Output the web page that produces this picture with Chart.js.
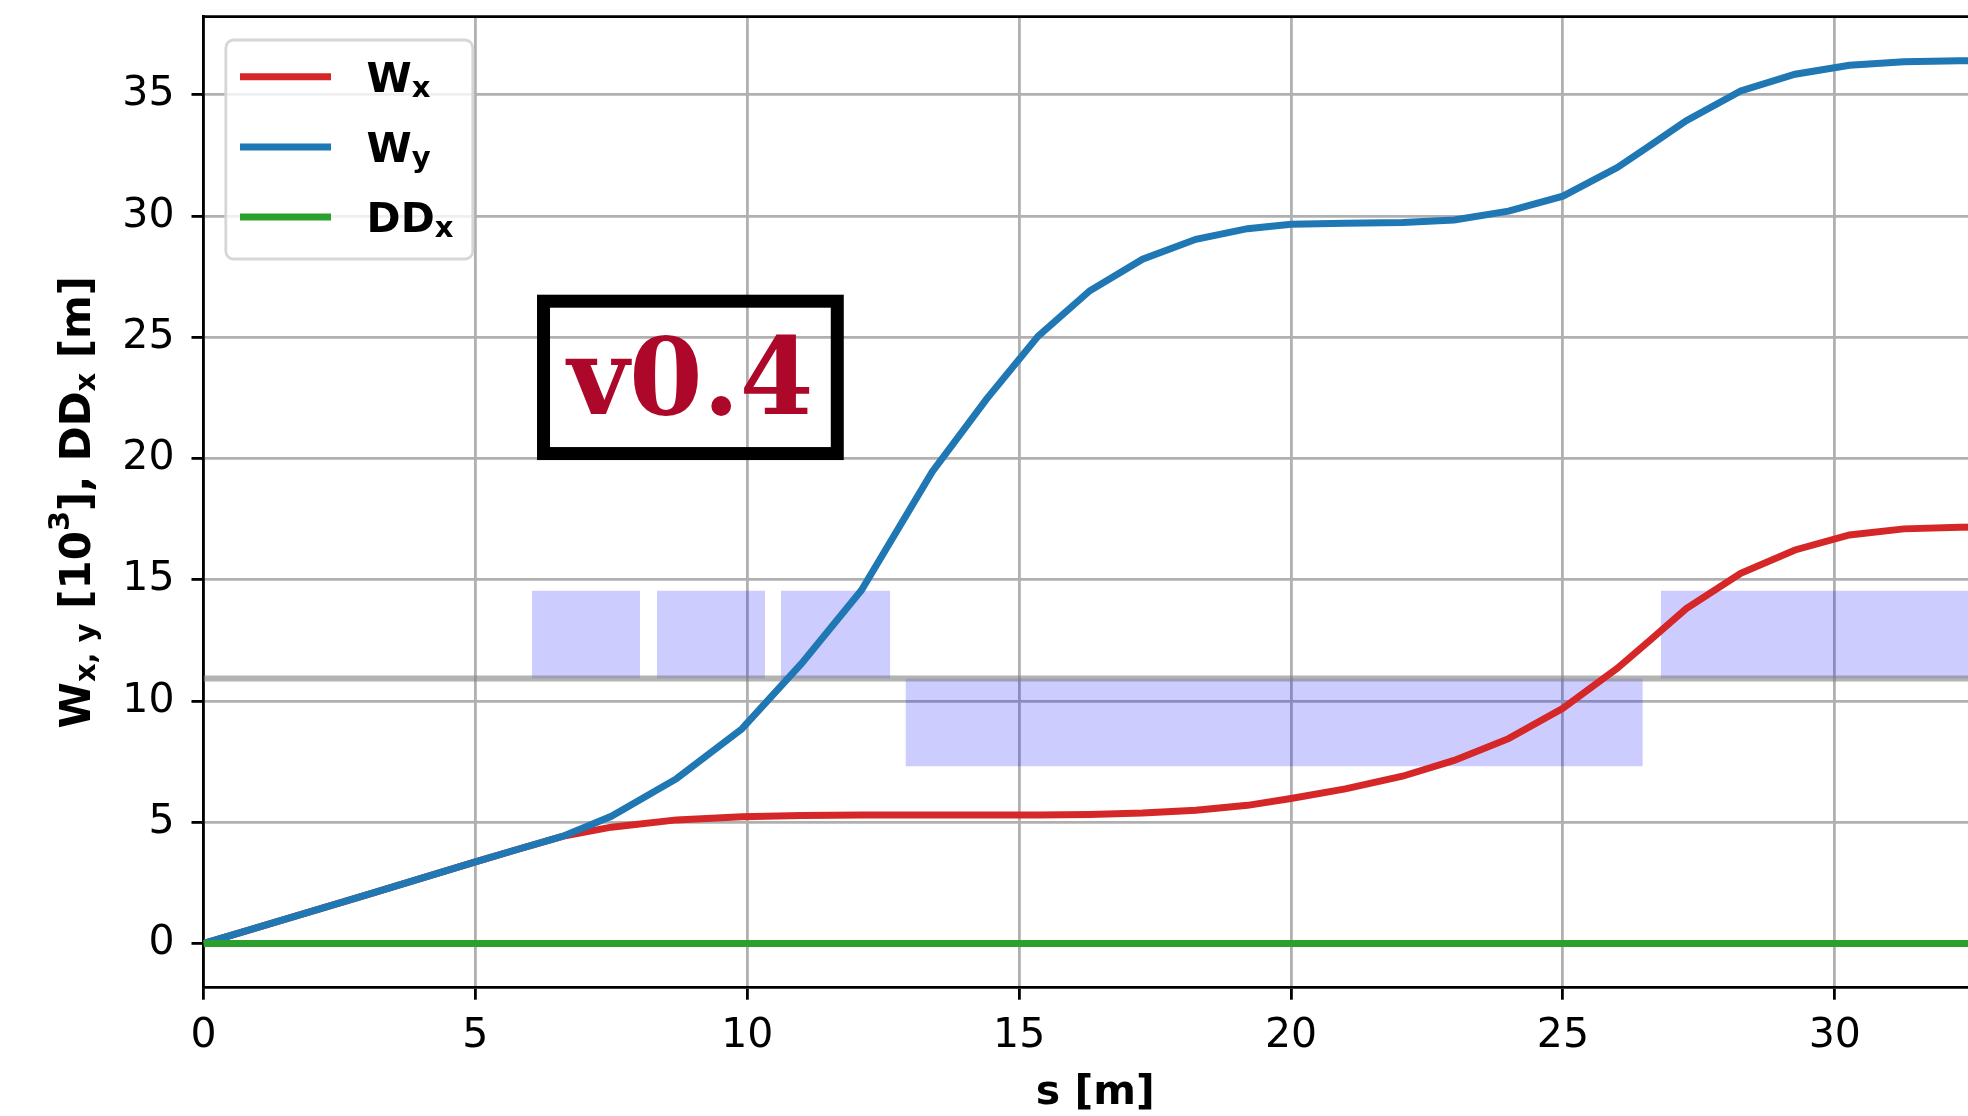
<!DOCTYPE html>
<html>
<head>
<meta charset="utf-8">
<title>W functions along s</title>
<script src="https://cdn.jsdelivr.net/npm/chart.js@4.4.1/dist/chart.umd.min.js"></script>
<style>
    html, body { margin: 0; padding: 0; background: #fff; overflow: hidden; }
    #wrap { position: relative; width: 2000px; height: 1116px; }
</style>
</head>
<body>
<div id="wrap"><canvas id="wChart"></canvas></div>
<script>
// longitudinal position [m]
const s   = [0, 1, 2, 3, 4, 5, 5.8, 6.6, 7.5, 8.7, 9.9, 11.0, 12.1, 13.4, 14.4, 15.35, 16.3, 17.27, 18.25, 19.2,
             20.0, 21.0, 22.05, 23.0, 24.0, 25.0, 26.0, 26.6, 27.27, 28.27, 29.27, 30.27, 31.27, 32.3, 32.8];
// chromatic W functions [10^3] and second order dispersion [m]
const wx  = [0, 0.67, 1.34, 2.01, 2.69, 3.37, 3.9, 4.42, 4.8, 5.1, 5.23, 5.28, 5.3, 5.3, 5.3, 5.3, 5.32, 5.38, 5.5, 5.7,
             5.98, 6.38, 6.9, 7.55, 8.45, 9.7, 11.35, 12.5, 13.81, 15.27, 16.23, 16.85, 17.1, 17.17, 17.18];
const wy  = [0, 0.67, 1.34, 2.01, 2.69, 3.37, 3.9, 4.42, 5.25, 6.8, 8.85, 11.55, 14.57, 19.45, 22.45, 25.05, 26.92, 28.22, 29.04, 29.48,
             29.66, 29.7, 29.73, 29.84, 30.2, 30.82, 32.0, 32.9, 33.93, 35.16, 35.85, 36.22, 36.36, 36.4, 36.4];
const ddx = [0, 0, 0, 0, 0, 0, 0, 0, 0, 0, 0, 0, 0, 0, 0, 0, 0, 0, 0, 0,
             0, 0, 0, 0, 0, 0, 0, 0, 0, 0, 0, 0, 0, 0, 0];

const seriesNames  = ['W_x', 'W_y', 'DD_x'];
const seriesColors = ['#d62728', '#1f77b4', '#2ca02c'];

const xTicks = [0, 5, 10, 15, 20, 25, 30];
const yTicks = [0, 5, 10, 15, 20, 25, 30, 35];
const sMax = 32.8;
const yMin = -1.82;
const yMax = 38.22;

// lattice elements drawn as boxes around the beam line
const beamLine   = 10.93;
const blockStart = [6.04, 8.34, 10.62, 12.91, 26.80];
const blockEnd   = [8.03, 10.33, 12.63, 26.47, 32.8];
const blockEdge  = [14.55, 14.55, 14.55, 7.31, 14.55];

const versionTag = 'v0.4';
const yTitle = 'W_{x, y} [10^3], DD_x [m]';

const FONT = "'DejaVu Sans', sans-serif";
const SIZE = 41;
const LINE_W = 7;

// split "A_{b}" / "A^c" into [text, level] pieces
function parseMath(str) {
    const out = [];
    let buf = '', i = 0;
    while (i < str.length) {
        const c = str[i];
        if (c === '_' || c === '^') {
            if (buf) { out.push([buf, 0]); buf = ''; }
            let arg;
            if (str[i + 1] === '{') {
                const j = str.indexOf('}', i);
                arg = str.slice(i + 2, j);
                i = j + 1;
            } else {
                arg = str[i + 1];
                i += 2;
            }
            out.push([arg, c === '_' ? -1 : 1]);
        } else {
            buf += c;
            i++;
        }
    }
    if (buf) out.push([buf, 0]);
    return out;
}

function partFont(level, size) {
    return 'bold ' + (level === 0 ? size : Math.round(size * 0.7)) + 'px ' + FONT;
}

function mathWidth(ctx, parts, size) {
    let w = 0;
    for (const [t, lvl] of parts) {
        ctx.font = partFont(lvl, size);
        w += ctx.measureText(t).width;
    }
    return w;
}

function drawMath(ctx, parts, x, y, size) {
    ctx.textAlign = 'left';
    ctx.textBaseline = 'alphabetic';
    for (const [t, lvl] of parts) {
        ctx.font = partFont(lvl, size);
        const dy = lvl < 0 ? size * 0.13 : (lvl > 0 ? -size * 0.5 : 0);
        ctx.fillText(t, x, y + dy);
        x += ctx.measureText(t).width;
    }
}

const decorations = {
    id: 'decorations',
    afterDatasetsDraw(chart) {
        const {ctx, chartArea: a} = chart;
        ctx.save();
        ctx.strokeStyle = '#000';
        ctx.lineWidth = 2.8;
        ctx.beginPath();
        ctx.moveTo(a.left, a.top);
        ctx.lineTo(a.right, a.top);
        ctx.lineTo(a.right, a.bottom);
        ctx.stroke();
        ctx.restore();
    },
    afterDraw(chart) {
        const {ctx, chartArea: a} = chart;
        const w = a.right - a.left, h = a.bottom - a.top;

        // legend
        ctx.save();
        const lx = a.left + 22.3, ly = a.top + 23.3, lw = 247, lh = 219;
        ctx.beginPath();
        ctx.roundRect(lx, ly, lw, lh, 8);
        ctx.fillStyle = 'rgba(255,255,255,0.8)';
        ctx.fill();
        ctx.strokeStyle = '#d6d6d6';
        ctx.lineWidth = 2.8;
        ctx.stroke();
        seriesNames.forEach((name, i) => {
            const cy = ly + 36.7 + i * 70.2;
            ctx.strokeStyle = seriesColors[i];
            ctx.lineWidth = LINE_W;
            ctx.beginPath();
            ctx.moveTo(lx + 14.2, cy);
            ctx.lineTo(lx + 105.2, cy);
            ctx.stroke();
            ctx.fillStyle = '#000';
            drawMath(ctx, parseMath(name), lx + 140.8, cy + 15, SIZE);
        });
        ctx.restore();

        // version tag
        ctx.save();
        const bx0 = a.left + 0.187 * w, bx1 = a.left + 0.359 * w;
        const by0 = a.top + 0.2863 * h, by1 = a.top + 0.4566 * h;
        ctx.strokeStyle = '#000';
        ctx.lineWidth = 13;
        ctx.strokeRect(bx0 + 6.5, by0 + 6.5, bx1 - bx0 - 13, by1 - by0 - 13);
        ctx.fillStyle = '#ad0829';
        ctx.font = "bold 106px 'DejaVu Serif', serif";
        ctx.textAlign = 'center';
        ctx.textBaseline = 'alphabetic';
        ctx.fillText(versionTag, (bx0 + bx1) / 2, by0 + 0.72 * (by1 - by0));
        ctx.restore();

        // rotated y axis title
        ctx.save();
        const titleSize = 42;
        const parts = parseMath(yTitle);
        const tw = mathWidth(ctx, parts, titleSize);
        ctx.translate(90, (a.top + a.bottom) / 2);
        ctx.rotate(-Math.PI / 2);
        ctx.fillStyle = '#000';
        drawMath(ctx, parts, -tw / 2, 0, titleSize);
        ctx.restore();
    }
};

Chart.defaults.font.family = FONT;
Chart.defaults.font.size = SIZE;
Chart.defaults.color = '#000';

const curves = [wx, wy, ddx].map((vals, i) => ({
    label: seriesNames[i],
    data: s.map((x, k) => ({x: x, y: vals[k]})),
    borderColor: seriesColors[i],
    borderWidth: LINE_W,
    pointRadius: 0,
    tension: 0,
    fill: false,
    clip: 0,
    order: 2 - i
}));

const guide = {
    label: 'beam line',
    data: [{x: 0, y: beamLine}, {x: sMax, y: beamLine}],
    borderColor: 'rgba(128,128,128,0.6)',
    borderWidth: 6,
    pointRadius: 0,
    fill: false,
    order: 3
};

const blocks = blockStart.map((x0, i) => ({
    label: 'element ' + i,
    data: [{x: x0, y: blockEdge[i]}, {x: blockEnd[i], y: blockEdge[i]}],
    borderColor: 'rgba(0,0,0,0)',
    borderWidth: 0,
    backgroundColor: 'rgba(0,0,255,0.2)',
    pointRadius: 0,
    fill: {value: beamLine},
    order: 4
}));

const gridOpts = {
    color: '#b0b0b0',
    lineWidth: 2.8,
    tickColor: '#000',
    tickWidth: 2.8,
    tickLength: 12
};

new Chart(document.getElementById('wChart'), {
    type: 'line',
    data: { datasets: [...curves, guide, ...blocks] },
    plugins: [decorations],
    options: {
        responsive: true,
        maintainAspectRatio: false,
        devicePixelRatio: 1,
        animation: false,
        layout: { padding: { left: 0, top: 16.7, right: 13, bottom: 0 } },
        plugins: {
            legend: { display: false },
            tooltip: { enabled: false }
        },
        scales: {
            x: {
                type: 'linear',
                min: 0,
                max: sMax,
                afterBuildTicks: sc => { sc.ticks = xTicks.map(v => ({value: v})); },
                afterFit: sc => {
                    sc.height = 128.3;
                    sc.paddingLeft = 0;
                    sc.paddingRight = 0;
                },
                grid: gridOpts,
                border: { color: '#000', width: 2.8 },
                ticks: { padding: 12, maxRotation: 0, font: { size: SIZE } },
                title: {
                    display: true,
                    text: 's [m]',
                    font: { size: SIZE, weight: 'bold' },
                    padding: { top: 0, bottom: -2 }
                }
            },
            y: {
                type: 'linear',
                min: yMin,
                max: yMax,
                afterBuildTicks: sc => { sc.ticks = yTicks.map(v => ({value: v})); },
                afterFit: sc => {
                    sc.width = 203.5;
                    sc.paddingTop = 0;
                    sc.paddingBottom = 0;
                },
                grid: gridOpts,
                border: { color: '#000', width: 2.8 },
                ticks: { padding: 17, font: { size: SIZE } }
            }
        }
    }
});
</script>
</body>
</html>
